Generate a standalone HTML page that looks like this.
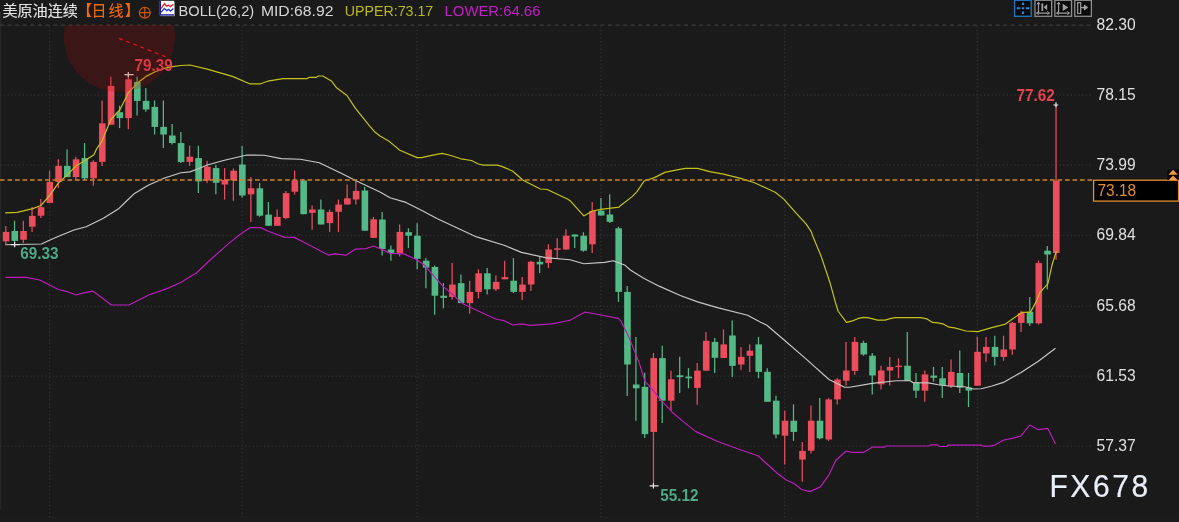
<!DOCTYPE html>
<html lang="zh"><head><meta charset="utf-8"><title>chart</title>
<style>html,body{margin:0;padding:0;background:#1a1a1a;overflow:hidden}svg text{white-space:pre}</style></head>
<body>
<svg width="1179" height="522" viewBox="0 0 1179 522" style="display:block">
<rect width="1179" height="522" fill="#1a1a1a"/>
<rect x="0" y="12" width="1.4" height="497" fill="#262626"/>
<rect x="0" y="517" width="1179" height="5" fill="#1c1c1c"/><rect x="0" y="516.6" width="1179" height="1" fill="#1e1e1e"/>
<g stroke="#303030" stroke-width="1.3" fill="none">
<path d="M0 25.2H1092" stroke-dasharray="4 3.6" stroke="#3a3a3a"/>
<path d="M0 95.1H1092" stroke-dasharray="1.3 2.47"/>
<path d="M0 165.1H1092" stroke-dasharray="1.3 2.47"/>
<path d="M0 235.3H1092" stroke-dasharray="1.3 2.47"/>
<path d="M0 306.3H1092" stroke-dasharray="1.3 2.47"/>
<path d="M0 376.2H1092" stroke-dasharray="1.3 2.47"/>
<path d="M0 446.2H1092" stroke-dasharray="1.3 2.47"/>
<path d="M49.56 26V517" stroke-dasharray="1.3 2.47"/>
<path d="M242.10 26V517" stroke-dasharray="1.3 2.47"/>
<path d="M417.14 26V517" stroke-dasharray="1.3 2.47"/>
<path d="M600.94 26V517" stroke-dasharray="1.3 2.47"/>
<path d="M784.73 26V517" stroke-dasharray="1.3 2.47"/>
<path d="M977.27 26V517" stroke-dasharray="1.3 2.47"/>
</g>
<g>
<path d="M5.80 225.9V244.0" stroke="#eb4d5c" stroke-width="1.25"/>
<rect x="2.75" y="231.9" width="6.6" height="9.5" fill="#eb4d5c"/>
<path d="M14.55 220.7V246.8" stroke="#53b987" stroke-width="1.25"/>
<rect x="11.50" y="231.0" width="6.6" height="9.9" fill="#53b987"/>
<path d="M23.30 220.7V243.1" stroke="#eb4d5c" stroke-width="1.25"/>
<rect x="20.25" y="231.0" width="6.6" height="8.7" fill="#eb4d5c"/>
<path d="M32.06 207.0V231.9" stroke="#eb4d5c" stroke-width="1.25"/>
<rect x="29.01" y="215.9" width="6.6" height="10.8" fill="#eb4d5c"/>
<path d="M40.81 199.0V218.0" stroke="#eb4d5c" stroke-width="1.25"/>
<rect x="37.76" y="207.2" width="6.6" height="8.5" fill="#eb4d5c"/>
<path d="M49.56 170.7V202.9" stroke="#eb4d5c" stroke-width="1.25"/>
<rect x="46.51" y="181.9" width="6.6" height="21.0" fill="#eb4d5c"/>
<path d="M58.31 159.3V187.9" stroke="#eb4d5c" stroke-width="1.25"/>
<rect x="55.26" y="165.9" width="6.6" height="16.0" fill="#eb4d5c"/>
<path d="M67.06 149.5V177.1" stroke="#53b987" stroke-width="1.25"/>
<rect x="64.01" y="165.9" width="6.6" height="11.2" fill="#53b987"/>
<path d="M75.82 156.7V180.5" stroke="#eb4d5c" stroke-width="1.25"/>
<rect x="72.77" y="159.3" width="6.6" height="17.8" fill="#eb4d5c"/>
<path d="M84.57 143.1V180.0" stroke="#53b987" stroke-width="1.25"/>
<rect x="81.52" y="158.1" width="6.6" height="20.2" fill="#53b987"/>
<path d="M93.32 160.3V185.7" stroke="#eb4d5c" stroke-width="1.25"/>
<rect x="90.27" y="161.9" width="6.6" height="16.4" fill="#eb4d5c"/>
<path d="M102.07 100.5V165.9" stroke="#eb4d5c" stroke-width="1.25"/>
<rect x="99.02" y="123.3" width="6.6" height="38.6" fill="#eb4d5c"/>
<path d="M110.82 76.7V124.7" stroke="#eb4d5c" stroke-width="1.25"/>
<rect x="107.77" y="85.9" width="6.6" height="38.8" fill="#eb4d5c"/>
<path d="M119.58 105.7V128.1" stroke="#53b987" stroke-width="1.25"/>
<rect x="116.53" y="112.2" width="6.6" height="5.9" fill="#53b987"/>
<path d="M128.33 74.7V129.3" stroke="#eb4d5c" stroke-width="1.25"/>
<rect x="125.28" y="79.3" width="6.6" height="38.8" fill="#eb4d5c"/>
<path d="M137.08 76.7V115.5" stroke="#53b987" stroke-width="1.25"/>
<rect x="134.03" y="81.9" width="6.6" height="19.0" fill="#53b987"/>
<path d="M145.83 88.1V111.7" stroke="#53b987" stroke-width="1.25"/>
<rect x="142.78" y="100.9" width="6.6" height="8.6" fill="#53b987"/>
<path d="M154.58 100.5V134.5" stroke="#53b987" stroke-width="1.25"/>
<rect x="151.53" y="106.9" width="6.6" height="20.0" fill="#53b987"/>
<path d="M163.34 100.5V148.1" stroke="#53b987" stroke-width="1.25"/>
<rect x="160.29" y="126.9" width="6.6" height="7.6" fill="#53b987"/>
<path d="M172.09 124.1V144.4" stroke="#53b987" stroke-width="1.25"/>
<rect x="169.04" y="135.5" width="6.6" height="7.5" fill="#53b987"/>
<path d="M180.84 132.0V163.0" stroke="#53b987" stroke-width="1.25"/>
<rect x="177.79" y="143.1" width="6.6" height="18.8" fill="#53b987"/>
<path d="M189.59 145.7V165.9" stroke="#eb4d5c" stroke-width="1.25"/>
<rect x="186.54" y="156.7" width="6.6" height="5.2" fill="#eb4d5c"/>
<path d="M198.34 145.7V193.1" stroke="#53b987" stroke-width="1.25"/>
<rect x="195.29" y="158.1" width="6.6" height="23.3" fill="#53b987"/>
<path d="M207.10 160.7V183.1" stroke="#eb4d5c" stroke-width="1.25"/>
<rect x="204.05" y="166.7" width="6.6" height="13.8" fill="#eb4d5c"/>
<path d="M215.85 164.7V194.3" stroke="#53b987" stroke-width="1.25"/>
<rect x="212.80" y="168.1" width="6.6" height="14.7" fill="#53b987"/>
<path d="M224.60 168.1V199.5" stroke="#eb4d5c" stroke-width="1.25"/>
<rect x="221.55" y="180.0" width="6.6" height="4.5" fill="#eb4d5c"/>
<path d="M233.35 168.4V200.7" stroke="#eb4d5c" stroke-width="1.25"/>
<rect x="230.30" y="170.7" width="6.6" height="9.8" fill="#eb4d5c"/>
<path d="M242.10 145.7V197.8" stroke="#53b987" stroke-width="1.25"/>
<rect x="239.05" y="164.5" width="6.6" height="31.0" fill="#53b987"/>
<path d="M250.86 177.1V221.9" stroke="#eb4d5c" stroke-width="1.25"/>
<rect x="247.81" y="188.3" width="6.6" height="6.0" fill="#eb4d5c"/>
<path d="M259.61 183.1V216.7" stroke="#53b987" stroke-width="1.25"/>
<rect x="256.56" y="188.3" width="6.6" height="27.4" fill="#53b987"/>
<path d="M268.36 202.1V225.8" stroke="#53b987" stroke-width="1.25"/>
<rect x="265.31" y="214.6" width="6.6" height="11.2" fill="#53b987"/>
<path d="M277.11 209.5V225.8" stroke="#eb4d5c" stroke-width="1.25"/>
<rect x="274.06" y="216.9" width="6.6" height="8.9" fill="#eb4d5c"/>
<path d="M285.86 190.9V219.3" stroke="#eb4d5c" stroke-width="1.25"/>
<rect x="282.81" y="193.1" width="6.6" height="25.0" fill="#eb4d5c"/>
<path d="M294.62 170.7V194.7" stroke="#eb4d5c" stroke-width="1.25"/>
<rect x="291.57" y="180.5" width="6.6" height="11.2" fill="#eb4d5c"/>
<path d="M303.37 179.3V214.2" stroke="#53b987" stroke-width="1.25"/>
<rect x="300.32" y="180.5" width="6.6" height="33.7" fill="#53b987"/>
<path d="M312.12 205.6V229.7" stroke="#eb4d5c" stroke-width="1.25"/>
<rect x="309.07" y="209.5" width="6.6" height="3.4" fill="#eb4d5c"/>
<path d="M320.87 199.5V224.5" stroke="#53b987" stroke-width="1.25"/>
<rect x="317.82" y="209.5" width="6.6" height="15.0" fill="#53b987"/>
<path d="M329.62 209.5V231.9" stroke="#eb4d5c" stroke-width="1.25"/>
<rect x="326.57" y="211.9" width="6.6" height="11.2" fill="#eb4d5c"/>
<path d="M338.38 199.5V231.9" stroke="#eb4d5c" stroke-width="1.25"/>
<rect x="335.33" y="204.5" width="6.6" height="7.3" fill="#eb4d5c"/>
<path d="M347.13 184.5V204.5" stroke="#eb4d5c" stroke-width="1.25"/>
<rect x="344.08" y="198.3" width="6.6" height="6.2" fill="#eb4d5c"/>
<path d="M355.88 180.5V204.5" stroke="#eb4d5c" stroke-width="1.25"/>
<rect x="352.83" y="190.9" width="6.6" height="8.6" fill="#eb4d5c"/>
<path d="M364.63 186.9V230.7" stroke="#53b987" stroke-width="1.25"/>
<rect x="361.58" y="190.5" width="6.6" height="40.2" fill="#53b987"/>
<path d="M373.38 216.9V237.9" stroke="#eb4d5c" stroke-width="1.25"/>
<rect x="370.33" y="219.3" width="6.6" height="18.6" fill="#eb4d5c"/>
<path d="M382.14 212.0V255.5" stroke="#53b987" stroke-width="1.25"/>
<rect x="379.09" y="219.5" width="6.6" height="29.5" fill="#53b987"/>
<path d="M390.89 245.5V260.7" stroke="#53b987" stroke-width="1.25"/>
<rect x="387.84" y="249.5" width="6.6" height="3.4" fill="#53b987"/>
<path d="M399.64 224.5V256.4" stroke="#eb4d5c" stroke-width="1.25"/>
<rect x="396.59" y="231.9" width="6.6" height="21.0" fill="#eb4d5c"/>
<path d="M408.39 228.3V248.1" stroke="#53b987" stroke-width="1.25"/>
<rect x="405.34" y="232.2" width="6.6" height="3.5" fill="#53b987"/>
<path d="M417.14 223.3V269.3" stroke="#53b987" stroke-width="1.25"/>
<rect x="414.09" y="235.7" width="6.6" height="23.1" fill="#53b987"/>
<path d="M425.90 258.1V288.3" stroke="#53b987" stroke-width="1.25"/>
<rect x="422.85" y="260.7" width="6.6" height="7.0" fill="#53b987"/>
<path d="M434.65 265.5V314.7" stroke="#53b987" stroke-width="1.25"/>
<rect x="431.60" y="267.0" width="6.6" height="28.7" fill="#53b987"/>
<path d="M443.40 283.1V308.3" stroke="#53b987" stroke-width="1.25"/>
<rect x="440.35" y="295.7" width="6.6" height="2.2" fill="#53b987"/>
<path d="M452.15 263.1V299.5" stroke="#eb4d5c" stroke-width="1.25"/>
<rect x="449.10" y="284.5" width="6.6" height="12.4" fill="#eb4d5c"/>
<path d="M460.90 274.5V303.1" stroke="#53b987" stroke-width="1.25"/>
<rect x="457.85" y="283.1" width="6.6" height="20.0" fill="#53b987"/>
<path d="M469.66 280.7V313.4" stroke="#eb4d5c" stroke-width="1.25"/>
<rect x="466.61" y="291.9" width="6.6" height="11.2" fill="#eb4d5c"/>
<path d="M478.41 269.3V298.3" stroke="#eb4d5c" stroke-width="1.25"/>
<rect x="475.36" y="273.3" width="6.6" height="18.6" fill="#eb4d5c"/>
<path d="M487.16 268.1V294.5" stroke="#53b987" stroke-width="1.25"/>
<rect x="484.11" y="273.3" width="6.6" height="16.0" fill="#53b987"/>
<path d="M495.91 275.6V290.9" stroke="#eb4d5c" stroke-width="1.25"/>
<rect x="492.86" y="281.9" width="6.6" height="7.4" fill="#eb4d5c"/>
<path d="M504.66 260.7V279.3" stroke="#eb4d5c" stroke-width="1.25"/>
<rect x="501.61" y="277.1" width="6.6" height="2.2" fill="#eb4d5c"/>
<path d="M513.42 258.1V293.1" stroke="#53b987" stroke-width="1.25"/>
<rect x="510.37" y="280.7" width="6.6" height="11.2" fill="#53b987"/>
<path d="M522.17 277.1V300.0" stroke="#eb4d5c" stroke-width="1.25"/>
<rect x="519.12" y="284.5" width="6.6" height="7.4" fill="#eb4d5c"/>
<path d="M530.92 260.7V290.9" stroke="#eb4d5c" stroke-width="1.25"/>
<rect x="527.87" y="261.8" width="6.6" height="22.7" fill="#eb4d5c"/>
<path d="M539.67 256.9V273.0" stroke="#53b987" stroke-width="1.25"/>
<rect x="536.62" y="261.8" width="6.6" height="2.6" fill="#53b987"/>
<path d="M548.42 244.3V268.1" stroke="#eb4d5c" stroke-width="1.25"/>
<rect x="545.37" y="249.5" width="6.6" height="13.6" fill="#eb4d5c"/>
<path d="M557.18 238.3V258.1" stroke="#eb4d5c" stroke-width="1.25"/>
<rect x="554.13" y="248.3" width="6.6" height="1.5" fill="#eb4d5c"/>
<path d="M565.93 229.3V249.5" stroke="#eb4d5c" stroke-width="1.25"/>
<rect x="562.88" y="235.7" width="6.6" height="13.8" fill="#eb4d5c"/>
<path d="M574.68 234.5V248.1" stroke="#53b987" stroke-width="1.25"/>
<rect x="571.63" y="234.5" width="6.6" height="2.1" fill="#53b987"/>
<path d="M583.43 232.2V251.7" stroke="#53b987" stroke-width="1.25"/>
<rect x="580.38" y="235.7" width="6.6" height="15.0" fill="#53b987"/>
<path d="M592.18 202.1V252.9" stroke="#eb4d5c" stroke-width="1.25"/>
<rect x="589.13" y="211.0" width="6.6" height="33.3" fill="#eb4d5c"/>
<path d="M600.94 198.1V215.5" stroke="#53b987" stroke-width="1.25"/>
<rect x="597.89" y="210.7" width="6.6" height="4.8" fill="#53b987"/>
<path d="M609.69 194.3V223.1" stroke="#53b987" stroke-width="1.25"/>
<rect x="606.64" y="214.5" width="6.6" height="7.4" fill="#53b987"/>
<path d="M618.44 226.7V301.9" stroke="#53b987" stroke-width="1.25"/>
<rect x="615.39" y="228.3" width="6.6" height="63.6" fill="#53b987"/>
<path d="M627.19 285.9V396.0" stroke="#53b987" stroke-width="1.25"/>
<rect x="624.14" y="291.9" width="6.6" height="72.6" fill="#53b987"/>
<path d="M635.94 336.9V420.7" stroke="#53b987" stroke-width="1.25"/>
<rect x="632.89" y="384.5" width="6.6" height="3.8" fill="#53b987"/>
<path d="M644.70 372.8V438.1" stroke="#53b987" stroke-width="1.25"/>
<rect x="641.65" y="386.9" width="6.6" height="47.2" fill="#53b987"/>
<path d="M653.45 352.9V485.9" stroke="#eb4d5c" stroke-width="1.25"/>
<rect x="650.40" y="358.1" width="6.6" height="73.8" fill="#eb4d5c"/>
<path d="M662.20 345.8V423.1" stroke="#53b987" stroke-width="1.25"/>
<rect x="659.15" y="358.1" width="6.6" height="42.6" fill="#53b987"/>
<path d="M670.95 370.7V410.7" stroke="#eb4d5c" stroke-width="1.25"/>
<rect x="667.90" y="379.3" width="6.6" height="21.4" fill="#eb4d5c"/>
<path d="M679.70 356.8V393.1" stroke="#53b987" stroke-width="1.25"/>
<rect x="676.65" y="375.3" width="6.6" height="1.8" fill="#53b987"/>
<path d="M688.46 368.1V388.3" stroke="#53b987" stroke-width="1.25"/>
<rect x="685.41" y="376.6" width="6.6" height="1.7" fill="#53b987"/>
<path d="M697.21 362.9V404.7" stroke="#eb4d5c" stroke-width="1.25"/>
<rect x="694.16" y="370.7" width="6.6" height="17.2" fill="#eb4d5c"/>
<path d="M705.96 332.1V370.7" stroke="#eb4d5c" stroke-width="1.25"/>
<rect x="702.91" y="340.8" width="6.6" height="29.9" fill="#eb4d5c"/>
<path d="M714.71 338.1V373.1" stroke="#53b987" stroke-width="1.25"/>
<rect x="711.66" y="341.9" width="6.6" height="15.9" fill="#53b987"/>
<path d="M723.46 329.5V358.0" stroke="#eb4d5c" stroke-width="1.25"/>
<rect x="720.41" y="344.4" width="6.6" height="13.6" fill="#eb4d5c"/>
<path d="M732.22 320.5V377.1" stroke="#53b987" stroke-width="1.25"/>
<rect x="729.17" y="335.5" width="6.6" height="30.4" fill="#53b987"/>
<path d="M740.97 347.0V369.7" stroke="#eb4d5c" stroke-width="1.25"/>
<rect x="737.92" y="356.9" width="6.6" height="7.6" fill="#eb4d5c"/>
<path d="M749.72 344.4V371.9" stroke="#eb4d5c" stroke-width="1.25"/>
<rect x="746.67" y="350.7" width="6.6" height="5.1" fill="#eb4d5c"/>
<path d="M758.47 336.9V378.3" stroke="#53b987" stroke-width="1.25"/>
<rect x="755.42" y="344.4" width="6.6" height="27.5" fill="#53b987"/>
<path d="M767.22 368.2V401.8" stroke="#53b987" stroke-width="1.25"/>
<rect x="764.17" y="371.8" width="6.6" height="30.0" fill="#53b987"/>
<path d="M775.98 395.8V438.3" stroke="#53b987" stroke-width="1.25"/>
<rect x="772.93" y="400.7" width="6.6" height="33.8" fill="#53b987"/>
<path d="M784.73 410.7V464.5" stroke="#eb4d5c" stroke-width="1.25"/>
<rect x="781.68" y="420.7" width="6.6" height="15.0" fill="#eb4d5c"/>
<path d="M793.48 404.4V440.9" stroke="#53b987" stroke-width="1.25"/>
<rect x="790.43" y="420.7" width="6.6" height="11.2" fill="#53b987"/>
<path d="M802.23 441.9V481.7" stroke="#eb4d5c" stroke-width="1.25"/>
<rect x="799.18" y="450.9" width="6.6" height="8.7" fill="#eb4d5c"/>
<path d="M810.98 405.6V453.4" stroke="#eb4d5c" stroke-width="1.25"/>
<rect x="807.93" y="420.7" width="6.6" height="30.0" fill="#eb4d5c"/>
<path d="M819.74 398.1V439.5" stroke="#53b987" stroke-width="1.25"/>
<rect x="816.69" y="420.7" width="6.6" height="17.6" fill="#53b987"/>
<path d="M828.49 398.2V440.9" stroke="#eb4d5c" stroke-width="1.25"/>
<rect x="825.44" y="399.4" width="6.6" height="40.1" fill="#eb4d5c"/>
<path d="M837.24 378.3V404.4" stroke="#eb4d5c" stroke-width="1.25"/>
<rect x="834.19" y="379.5" width="6.6" height="19.9" fill="#eb4d5c"/>
<path d="M845.99 341.9V385.5" stroke="#eb4d5c" stroke-width="1.25"/>
<rect x="842.94" y="370.5" width="6.6" height="10.2" fill="#eb4d5c"/>
<path d="M854.74 336.9V374.7" stroke="#eb4d5c" stroke-width="1.25"/>
<rect x="851.69" y="341.9" width="6.6" height="29.0" fill="#eb4d5c"/>
<path d="M863.50 340.7V355.7" stroke="#53b987" stroke-width="1.25"/>
<rect x="860.45" y="342.9" width="6.6" height="11.6" fill="#53b987"/>
<path d="M872.25 353.1V394.4" stroke="#53b987" stroke-width="1.25"/>
<rect x="869.20" y="355.7" width="6.6" height="19.8" fill="#53b987"/>
<path d="M881.00 365.7V389.5" stroke="#eb4d5c" stroke-width="1.25"/>
<rect x="877.95" y="370.5" width="6.6" height="13.8" fill="#eb4d5c"/>
<path d="M889.75 357.1V385.5" stroke="#eb4d5c" stroke-width="1.25"/>
<rect x="886.70" y="366.9" width="6.6" height="3.6" fill="#eb4d5c"/>
<path d="M898.50 358.3V378.3" stroke="#eb4d5c" stroke-width="1.25"/>
<rect x="895.45" y="365.7" width="6.6" height="1.4" fill="#eb4d5c"/>
<path d="M907.26 332.1V380.7" stroke="#53b987" stroke-width="1.25"/>
<rect x="904.21" y="365.7" width="6.6" height="15.0" fill="#53b987"/>
<path d="M916.01 373.0V398.1" stroke="#53b987" stroke-width="1.25"/>
<rect x="912.96" y="382.3" width="6.6" height="8.4" fill="#53b987"/>
<path d="M924.76 370.6V401.8" stroke="#eb4d5c" stroke-width="1.25"/>
<rect x="921.71" y="374.4" width="6.6" height="16.3" fill="#eb4d5c"/>
<path d="M933.51 366.9V381.7" stroke="#53b987" stroke-width="1.25"/>
<rect x="930.46" y="375.6" width="6.6" height="2.2" fill="#53b987"/>
<path d="M942.26 366.9V398.1" stroke="#53b987" stroke-width="1.25"/>
<rect x="939.21" y="378.3" width="6.6" height="6.9" fill="#53b987"/>
<path d="M951.02 359.4V388.1" stroke="#eb4d5c" stroke-width="1.25"/>
<rect x="947.97" y="371.9" width="6.6" height="14.2" fill="#eb4d5c"/>
<path d="M959.77 350.6V393.0" stroke="#53b987" stroke-width="1.25"/>
<rect x="956.72" y="373.0" width="6.6" height="14.6" fill="#53b987"/>
<path d="M968.52 373.0V407.0" stroke="#53b987" stroke-width="1.25"/>
<rect x="965.47" y="387.6" width="6.6" height="3.0" fill="#53b987"/>
<path d="M977.27 336.7V385.7" stroke="#eb4d5c" stroke-width="1.25"/>
<rect x="974.22" y="351.8" width="6.6" height="33.9" fill="#eb4d5c"/>
<path d="M986.02 337.1V361.7" stroke="#eb4d5c" stroke-width="1.25"/>
<rect x="982.97" y="346.9" width="6.6" height="6.5" fill="#eb4d5c"/>
<path d="M994.78 335.7V365.5" stroke="#53b987" stroke-width="1.25"/>
<rect x="991.73" y="346.9" width="6.6" height="10.0" fill="#53b987"/>
<path d="M1003.53 335.7V360.7" stroke="#eb4d5c" stroke-width="1.25"/>
<rect x="1000.48" y="349.5" width="6.6" height="7.4" fill="#eb4d5c"/>
<path d="M1012.28 321.9V354.7" stroke="#eb4d5c" stroke-width="1.25"/>
<rect x="1009.23" y="322.9" width="6.6" height="26.6" fill="#eb4d5c"/>
<path d="M1021.03 310.7V331.9" stroke="#eb4d5c" stroke-width="1.25"/>
<rect x="1017.98" y="312.9" width="6.6" height="10.0" fill="#eb4d5c"/>
<path d="M1029.78 297.1V325.9" stroke="#53b987" stroke-width="1.25"/>
<rect x="1026.73" y="311.7" width="6.6" height="11.6" fill="#53b987"/>
<path d="M1038.54 260.5V324.5" stroke="#eb4d5c" stroke-width="1.25"/>
<rect x="1035.49" y="263.1" width="6.6" height="60.2" fill="#eb4d5c"/>
<path d="M1047.29 245.9V289.5" stroke="#53b987" stroke-width="1.25"/>
<rect x="1044.24" y="250.7" width="6.6" height="3.8" fill="#53b987"/>
<path d="M1056.04 104.7V259.7" stroke="#eb4d5c" stroke-width="1.25"/>
<rect x="1052.99" y="180.7" width="6.6" height="72.3" fill="#eb4d5c"/>
</g>
<path d="M5.2 244.8 L41.4 244.0 L50.0 240.0 L58.6 236.2 L74.0 230.0 L86.2 226.7 L103.4 218.2 L119.0 208.4 L127.6 200.0 L134.5 193.4 L148.3 185.2 L163.8 178.3 L181.0 172.8 L190.0 171.9 L198.3 168.8 L207.2 165.0 L224.5 160.3 L246.9 155.0 L264.1 155.2 L281.4 158.6 L300.3 159.3 L319.3 162.8 L341.7 173.6 L355.5 180.5 L380.0 192.0 L390.0 197.8 L405.9 202.4 L421.4 210.2 L436.9 218.4 L476.6 236.9 L504.1 245.2 L521.4 252.4 L545.5 257.6 L570.0 259.8 L583.8 263.8 L604.5 262.4 L613.1 260.7 L625.2 265.3 L630.3 270.0 L644.1 278.6 L659.7 286.4 L680.3 295.5 L697.6 301.9 L718.3 307.9 L747.6 315.2 L759.7 321.7 L766.9 325.2 L785.0 340.7 L804.8 357.9 L829.0 379.5 L844.5 387.2 L849.7 387.2 L872.1 383.4 L896.2 380.7 L910.0 380.7 L913.0 382.6 L928.4 382.9 L938.3 384.8 L949.0 386.0 L964.4 386.7 L973.6 389.0 L981.2 388.7 L992.0 386.0 L1004.2 382.1 L1021.0 372.4 L1038.3 361.2 L1055.5 348.3" fill="none" stroke="#c8c8c8" stroke-width="1.15" stroke-linejoin="round"/>
<path d="M5.2 212.8 L17.2 212.4 L32.8 208.6 L40.9 205.5 L50.0 195.2 L58.3 183.1 L67.0 175.3 L75.9 165.9 L84.7 160.7 L94.0 154.7 L96.6 148.8 L101.7 141.7 L110.9 119.5 L119.7 110.0 L128.4 92.8 L137.0 83.3 L146.0 76.4 L154.7 72.0 L163.4 68.6 L172.4 66.6 L181.0 65.5 L190.0 65.0 L207.2 69.1 L233.1 76.6 L249.5 83.8 L260.7 83.8 L267.6 81.2 L283.1 78.6 L307.2 78.6 L309.0 77.4 L315.9 77.4 L318.4 76.0 L322.8 76.0 L331.4 80.9 L336.6 87.8 L346.9 95.5 L355.5 108.4 L369.3 125.7 L374.5 131.7 L380.0 135.9 L389.5 141.6 L399.8 150.2 L417.1 157.6 L421.4 157.6 L431.7 155.3 L442.1 153.3 L449.0 155.0 L461.0 158.8 L471.4 160.5 L478.3 164.0 L483.4 165.2 L497.2 165.2 L502.4 166.6 L512.8 171.2 L523.1 180.3 L540.3 189.0 L547.2 189.5 L567.9 199.3 L570.0 200.7 L583.8 215.9 L592.4 211.0 L601.0 209.3 L619.1 207.2 L620.0 206.0 L632.1 196.6 L637.2 191.4 L644.1 181.0 L654.5 177.6 L664.8 172.4 L676.9 169.8 L685.5 168.4 L697.6 168.4 L709.7 171.6 L723.4 174.1 L740.7 178.4 L754.5 182.8 L775.2 192.2 L783.8 199.1 L795.9 212.9 L806.2 224.1 L811.4 231.9 L812.4 235.2 L821.0 255.9 L829.7 281.7 L835.5 302.7 L838.3 311.5 L846.5 322.4 L853.2 320.6 L857.6 318.7 L863.1 317.4 L867.5 317.6 L872.0 318.7 L877.4 320.1 L885.1 320.1 L890.0 318.7 L895.0 317.6 L920.4 317.6 L927.0 318.9 L932.5 322.4 L938.0 322.8 L943.6 324.2 L949.1 327.2 L954.6 327.8 L965.9 331.0 L977.9 331.6 L991.7 327.6 L1005.5 324.1 L1012.4 319.0 L1021.9 312.4 L1030.5 312.1 L1036.6 300.9 L1040.0 292.4 L1047.8 283.8 L1052.1 264.8 L1056.4 251.0" fill="none" stroke="#c6c118" stroke-width="1.2" stroke-linejoin="round"/>
<path d="M5.5 277.4 L26.5 277.4 L39.7 280.0 L58.4 289.5 L66.2 291.3 L76.1 295.0 L83.8 292.8 L92.6 291.1 L97.0 294.0 L111.4 305.0 L129.0 305.0 L148.8 295.0 L167.6 288.4 L180.8 282.5 L190.0 276.7 L196.3 273.0 L210.7 259.5 L228.8 243.4 L240.0 234.5 L250.3 227.6 L260.7 227.6 L267.6 231.0 L284.0 237.1 L294.3 237.4 L310.7 245.7 L328.8 255.2 L334.8 253.8 L346.0 255.2 L355.5 249.1 L365.9 248.6 L373.6 246.0 L385.2 250.9 L390.3 253.4 L404.1 253.9 L416.2 259.5 L424.8 265.5 L435.2 277.6 L443.8 287.1 L454.1 295.7 L462.8 303.8 L474.0 309.0 L495.5 319.0 L504.1 320.7 L512.8 325.0 L521.4 323.8 L530.0 325.3 L552.4 323.8 L566.2 321.0 L570.0 320.3 L584.7 312.2 L595.9 314.0 L618.3 318.3 L620.9 320.9 L628.6 336.4 L639.0 362.4 L645.0 381.4 L652.8 390.0 L659.7 398.6 L673.4 413.3 L683.8 422.1 L695.9 431.6 L716.6 441.0 L742.4 450.5 L757.9 455.7 L760.0 457.5 L777.2 473.3 L785.9 479.7 L794.5 483.8 L801.4 489.5 L810.0 491.6 L820.3 486.9 L829.0 474.8 L835.9 460.2 L846.2 451.0 L851.4 452.4 L863.4 452.4 L872.1 447.2 L884.1 447.2 L886.7 446.0 L929.0 446.0 L930.7 444.8 L937.6 444.8 L939.3 446.5 L946.9 446.5 L947.8 445.2 L981.4 445.2 L983.1 446.2 L990.0 446.2 L995.2 444.8 L1003.8 440.0 L1012.4 438.3 L1021.0 435.9 L1029.7 425.0 L1038.3 429.7 L1047.8 428.4 L1055.5 444.0" fill="none" stroke="#bc1cbc" stroke-width="1.2" stroke-linejoin="round"/>
<path d="M0 180H1093" stroke="#d08428" stroke-width="1.6" stroke-dasharray="4.7 2.8" fill="none"/>
<path d="M124.5 74.7H133.5M128.3 72.1V77.3" stroke="#e6e6e6" stroke-width="1.2" fill="none"/>
<path d="M10.8 244.6H19.8M14.6 242.0V247.2" stroke="#e6e6e6" stroke-width="1.2" fill="none"/>
<path d="M649.6 485.9H658.6M653.4 483.3V488.5" stroke="#e6e6e6" stroke-width="1.2" fill="none"/>
<path d="M1053.4 105H1058.3M1056.0 102.3V107.2" stroke="#e6e6e6" stroke-width="1.2" fill="none"/>
<g font-family="Liberation Sans, Arial, sans-serif" font-weight="bold" font-size="16.3" textLength="38.3" lengthAdjust="spacingAndGlyphs">
<text x="134.6" y="70.9" fill="#e4444f" textLength="38.2" lengthAdjust="spacingAndGlyphs">79.39</text>
<text x="20.2" y="259.2" fill="#4aab86" textLength="38.2" lengthAdjust="spacingAndGlyphs">69.33</text>
<text x="660.2" y="500.7" fill="#4aab86" textLength="38.2" lengthAdjust="spacingAndGlyphs">55.12</text>
<text x="1016.6" y="100.5" fill="#e4444f" textLength="38.2" lengthAdjust="spacingAndGlyphs">77.62</text>
</g>
<clipPath id="cp"><rect x="0" y="25" width="1100" height="495"/></clipPath>
<circle cx="119.4" cy="36.4" r="55.6" fill="rgba(185,10,10,0.21)" clip-path="url(#cp)"/>
<path d="M119 38.4L168.4 57.8" stroke="#f01018" stroke-width="1.2" stroke-dasharray="3.9 3.8" fill="none"/>
<g font-family="Liberation Sans, Arial, sans-serif" font-size="16.3" fill="#e0e0e0">
<text x="1096.6" y="29.5" textLength="39.1" lengthAdjust="spacingAndGlyphs">82.30</text>
<text x="1096.6" y="99.6" textLength="39.1" lengthAdjust="spacingAndGlyphs">78.15</text>
<text x="1096.6" y="169.6" textLength="39.1" lengthAdjust="spacingAndGlyphs">73.99</text>
<text x="1096.6" y="239.8" textLength="39.1" lengthAdjust="spacingAndGlyphs">69.84</text>
<text x="1096.6" y="310.8" textLength="39.1" lengthAdjust="spacingAndGlyphs">65.68</text>
<text x="1096.6" y="380.7" textLength="39.1" lengthAdjust="spacingAndGlyphs">61.53</text>
<text x="1096.6" y="450.7" textLength="39.1" lengthAdjust="spacingAndGlyphs">57.37</text>
</g>
<rect x="1093.6" y="180.2" width="85" height="20.9" fill="#000" stroke="#e08e30" stroke-width="1.3"/>
<text x="1097.5" y="195.8" font-family="Liberation Sans, Arial, sans-serif" font-size="16.3" fill="#e08e30" textLength="38.6" lengthAdjust="spacingAndGlyphs">73.18</text>
<rect x="1167.5" y="169.5" width="11" height="10.5" fill="#050505"/>
<path d="M1173.1 169.8L1177.8 174.8H1168.4ZM1173.1 175.4L1177.8 180.2H1168.4Z" fill="#ee9a38"/>
<g font-family="Liberation Sans, 'Noto Sans CJK SC', sans-serif">
<text x="2.4" y="15.6" font-size="14.4" fill="#e4e4e4" stroke="#e4e4e4" stroke-width="0.12" textLength="75.6" lengthAdjust="spacingAndGlyphs">美原油连续</text>
<g font-size="15" fill="#f86a04" stroke="#f86a04" stroke-width="0.1">
<text x="77.0" y="16.4">【</text><text x="91.6" y="16.4">日</text><text x="108.4" y="16.4">线</text><text x="124.8" y="16.4">】</text>
</g></g>
<g stroke="#c8580c" stroke-width="1.2" fill="none"><circle cx="144.8" cy="12.7" r="5.4"/><path d="M139.4 12.7H150.2M144.8 7.3V18.1"/></g>
<rect x="160.6" y="1.6" width="14.4" height="14.6" fill="#8c8c8c"/>
<rect x="159.8" y="0.8" width="14.2" height="14.6" fill="#fff"/>
<path d="M160.4 0.8V14.8H174" stroke="#1a1aa8" stroke-width="1.2" fill="none"/>
<path d="M161 8.6L164.4 3.6L166.6 6.2L168.6 5.2L170.4 6.6L173.4 4.2" stroke="#ee1c24" stroke-width="1.3" fill="none"/>
<path d="M161 12.4L164.4 8.4L166.6 10.6L168.6 9.4L170.4 11.2L173.4 8.6" stroke="#2030e0" stroke-width="1.3" fill="none"/>
<g font-family="Liberation Sans, Arial, sans-serif" font-size="15.5">
<text x="178.6" y="15.8" fill="#d6d6d6" textLength="75.6" lengthAdjust="spacingAndGlyphs">BOLL(26,2)</text>
<text x="260.9" y="15.8" fill="#d6d6d6" textLength="72.6" lengthAdjust="spacingAndGlyphs">MID:68.92</text>
<text x="344.8" y="15.8" fill="#b9b71c" textLength="88.4" lengthAdjust="spacingAndGlyphs">UPPER:73.17</text>
<text x="444.6" y="15.8" fill="#c41ec4" textLength="95.8" lengthAdjust="spacingAndGlyphs">LOWER:64.66</text>
</g>
<rect x="1014.6" y="0.3" width="16.6" height="16" fill="#0a0a0a" stroke="#1f78c6" stroke-width="1.3"/>
<path d="M1016.9 8.25H1020.3M1022 8.25H1024.1M1025.8 8.25H1029.2M1023.05 2.5V5.1M1023.05 7.2V9.3M1023.05 11.5V14" stroke="#2088e0" stroke-width="2.1" fill="none"/>
<rect x="1035.0" y="0.3" width="16.6" height="16" fill="#0a0a0a" stroke="#8c8c8c" stroke-width="1.3"/>
<rect x="1054.9" y="0.3" width="16.6" height="16" fill="#0a0a0a" stroke="#8c8c8c" stroke-width="1.3"/>
<rect x="1074.8" y="0.3" width="16.6" height="16" fill="#0a0a0a" stroke="#8c8c8c" stroke-width="1.3"/>
<g stroke="#a0a0a0" stroke-width="1.2" fill="#a0a0a0">
<path d="M1038.5 2.4V13.4M1036.9 13.1H1049.1" fill="none"/>
<path d="M1037.1 4.4L1038.5 2L1039.9 4.4M1038.6 11.6L1036.4 13.1L1038.6 14.6M1047.4 11.6L1049.6 13.1L1047.4 14.6" fill="none" stroke-width="1"/>
<path d="M1042.3 3.4V11" fill="none" stroke-width="1.8"/><path d="M1047.2 4.1V10.3L1043.6 7.2Z" stroke="none"/>
<path d="M1058.6 2.4V13.4M1056.9 13.1H1069.1" fill="none"/>
<path d="M1057.2 4.4L1058.6 2L1060 4.4M1058.6 11.6L1056.4 13.1L1058.6 14.6M1067.4 11.6L1069.6 13.1L1067.4 14.6" fill="none" stroke-width="1"/>
<path d="M1062.7 3.8V11L1068.3 7.5Z" stroke="none"/>
<path d="M1077.7 2.6H1080.7V13.5H1077.7Z" fill="none"/><path d="M1081 7.6H1085" fill="none"/><path d="M1084.3 4.6L1088.2 7.6L1084.3 10.6L1083.4 7.6Z" stroke="none"/>
</g>
<text transform="translate(1049.4 497.1) scale(1 1.04)" font-family="Liberation Sans, Arial, sans-serif" font-size="30" letter-spacing="2.6" fill="#e9eefb" stroke="#e9eefb" stroke-width="0.2">FX678</text>
</svg>
</body></html>
